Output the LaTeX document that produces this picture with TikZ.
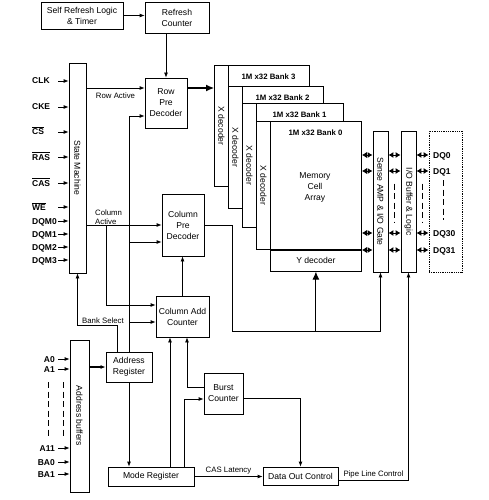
\documentclass[tikz,border=0pt]{standalone}
\usepackage{fontspec}
\setmainfont{Liberation Sans}
\usepackage{graphicx}
\usetikzlibrary{arrows.meta,positioning,calc}

\newcommand\boxfont{\fontsize{8.6}{11}\selectfont}
\newcommand\tagfont{\fontsize{7.8}{9}\selectfont}
\newcommand\pinfont{\fontsize{8.5}{10}\selectfont\bfseries}
\newcommand\bankfont{\fontsize{7.8}{9}\selectfont\bfseries}
\newcommand\nsig[1]{$\overline{\mbox{#1}}$}

\begin{document}
\begin{tikzpicture}[x=1pt,y=-1pt,
    blk/.style={draw,line width=0.8pt,fill=white,align=center,inner sep=1pt,font=\boxfont},
    arr/.style={-{Latex[length=5pt,width=4pt]},line width=0.8pt},
    bigarr/.style={-{Latex[length=8pt,width=7pt]},line width=1.1pt},
    dbl/.style={{Latex[length=5pt,width=6pt]}-{Latex[length=5pt,width=6pt]},line width=0.9pt},
    pin/.style={font=\pinfont,inner sep=0pt},
    tag/.style={font=\tagfont,inner sep=0pt},
    gap/.style={dash pattern=on 6pt off 3.5pt,line width=0.7pt}]
  \useasboundingbox (0,0) rectangle (489,500);

  % blocks
  \node[blk,minimum width=82pt,minimum height=27pt] (selfref) at (82,15.5) {Self Refresh Logic\\\& Timer};
  \node[blk,minimum width=64pt,minimum height=31pt] (refcnt) at (177,17.5) {Refresh\\Counter};
  \node[blk,minimum width=17pt,minimum height=210pt] (statem) at (77.5,168) {\rotatebox{-90}{State Machine}};
  \node[blk,minimum width=42pt,minimum height=50pt] (rowpre) at (166,103) {Row\\Pre\\Decoder};
  \node[blk,minimum width=42pt,minimum height=62pt] (colpre) at (183,225) {Column\\Pre\\Decoder};
  \node[blk,minimum width=53pt,minimum height=41pt] (coladd) at (182.5,316.5) {Column Add\\Counter};
  \node[blk,minimum width=46pt,minimum height=30pt] (addreg) at (129,367) {Address\\Register};
  \node[blk,minimum width=19pt,minimum height=152pt] (addbuf) at (79.5,416) {\rotatebox{-90}{Address buffers}};
  \node[blk,minimum width=39pt,minimum height=41pt] (burst) at (223.5,393.5) {Burst\\Counter};
  \node[blk,minimum width=86pt,minimum height=19pt] (modereg) at (151,476.5) {Mode Register};
  \node[blk,minimum width=75pt,minimum height=18pt] (dataout) at (300.5,476) {Data Out Control};
  \node[blk,minimum width=15pt,minimum height=141pt] (sense) at (380.5,201.5) {\rotatebox{-90}{Sense AMP \& I/O Gate}};
  \node[blk,minimum width=15pt,minimum height=141pt] (iobuf) at (408.5,201.5) {\rotatebox{-90}{I/O Buffer \& Logic}};
  \node[draw,densely dotted,line width=0.8pt,minimum width=33pt,minimum height=141pt] (dqbox) at (445.5,201.5) {};

  % memory banks, back to front
  \foreach \b/\x/\y/\w/\h in {3/214/65/95/121,2/228/86/95/122,1/242/103/101/124,0/256/121/105/128}{
    \node[blk,anchor=north west,minimum width=\w pt,minimum height=\h pt] (bank\b) at (\x,\y) {};
    \node[blk,anchor=north west,minimum width=14pt,minimum height=\h pt] (xdec\b) at (\x,\y) {\rotatebox{-90}{X decoder}};
    \node[font=\bankfont,inner sep=0pt] (title\b) at ({\x+7+\w/2},{\y+12}) {1M x32 Bank \b};
  }
  \node[blk,anchor=north east,minimum width=91pt,minimum height=21pt] (ydec) at (bank0.south east) {Y decoder};
  \node[font=\boxfont,align=center] (cells) at (315,187) {Memory\\Cell\\Array};

  % control pins
  \foreach \t/\y/\n in {CLK/81/clk,CKE/107/cke,\nsig{CS}/132/cs,\nsig{RAS}/157/ras,\nsig{CAS}/183/cas,\nsig{WE}/207/we,DQM0/221/dqm0,DQM1/234/dqm1,DQM2/247/dqm2,DQM3/260/dqm3}{
    \node[pin,anchor=base west] (\n) at (32,\y+3) {\t};
    \coordinate (\n-in) at (58,\y);
    \draw[arr] (\n-in) -- (\n-in -| statem.west);
  }
  % address pins
  \foreach \t/\y/\n in {A0/359/a0,A1/369/a1,A11/448/a11,BA0/462/ba0,BA1/474/ba1}{
    \node[pin,anchor=base east] (\n) at (55,\y+3) {\t};
    \coordinate (\n-in) at (58,\y);
    \draw[arr] (\n-in) -- (\n-in -| addbuf.west);
  }
  \draw[gap] (48,382) -- (48,438);
  \draw[gap] (63,382) -- (63,438);

  % refresh and row path
  \draw[arr] (selfref.east) -- (selfref.east -| refcnt.west);
  \draw[arr] (refcnt.south -| rowpre.north) -- (rowpre.north);
  \coordinate (rowtap) at ([yshift=15pt]rowpre.west);
  \draw[arr] (rowtap -| statem.east) -- (rowtap) node[tag,midway,below=4pt] {Row Active};
  \draw[bigarr] ([yshift=15pt]rowpre.east) -- ([yshift=15pt]rowpre.east -| xdec3.west);

  % column path
  \draw[arr] (colpre.west -| statem.east) -- (colpre.west);
  \node[tag,align=left,anchor=west] (colact) at (95,217.5) {Column\\Active};
  \draw[arr] (106,0 |- colpre.west) |- ([yshift=11.5pt]coladd.west);
  \draw[arr] (addreg.north) |- ([yshift=-13pt]rowpre.west);
  \coordinate (colprein) at ([yshift=-17pt]colpre.west);
  \draw[arr] (colprein -| addreg.north) -- (colprein);
  \coordinate (coladdin) at ([yshift=-5.5pt]coladd.west);
  \draw[arr] (coladdin -| addreg.north) -- (coladdin);
  \draw[arr] ([xshift=-12pt]addreg.north) -- ++(0,-26) -| (statem.south);
  \node[tag,anchor=south] (banksel) at (103,324) {Bank Select};
  \draw[arr] (coladd.north) -- (coladd.north |- colpre.south);
  \coordinate (ybus) at (232,331);
  \draw[arr] (colpre.east) -| (ybus) -| (sense.south);
  \draw[bigarr] (ybus -| ydec.south) -- (ydec.south);

  % address and mode path
  \draw[arr,line width=1.2pt] (addreg.west -| addbuf.east) -- (addreg.west);
  \draw[arr] (addreg.south) -- (addreg.south |- modereg.north);
  \coordinate (modeup) at ([xshift=-12.5pt]coladd.south);
  \draw[arr] (modeup |- modereg.north) -- (modeup);
  \coordinate (burstup) at ([xshift=4.5pt]coladd.south);
  \draw[arr] ([yshift=6.5pt]burst.west) -| (burstup);
  \coordinate (burstin) at ([yshift=-5.5pt]burst.west);
  \draw[arr] ([xshift=-10pt]modereg.north east) |- (burstin);
  \draw[arr] ([yshift=-4.5pt]burst.east) -| (dataout.north);
  \draw[arr] (modereg.east) -- (modereg.east -| dataout.west) node[tag,midway,above=2pt] {CAS Latency};
  \draw[arr] ([yshift=-4pt]dataout.east) -| (iobuf.south) node[tag,pos=0.25,above=1.5pt] {Pipe Line Control};

  % data lines
  \foreach \y in {155,171,233,250}{
    \draw[dbl] (bank0.east |- 0,\y) -- (sense.west |- 0,\y);
    \draw[dbl] (sense.east |- 0,\y) -- (iobuf.west |- 0,\y);
    \draw[dbl] (iobuf.east |- 0,\y) -- (dqbox.west |- 0,\y);
  }
  \foreach \t/\y/\n in {DQ0/155/dq0,DQ1/171/dq1,DQ30/233/dq30,DQ31/250/dq31}{
    \node[pin,anchor=base west] (\n) at (433,\y+3) {\t};
  }
  \draw[gap] ($(sense.east)!0.5!(iobuf.west)$) ++(0,-18) -- ++(0,39);
  \draw[gap] ($(iobuf.east)!0.5!(dqbox.west)$) ++(0,-18) -- ++(0,39);
  \draw[gap] (443,180) -- (443,220);
\end{tikzpicture}
\end{document}
